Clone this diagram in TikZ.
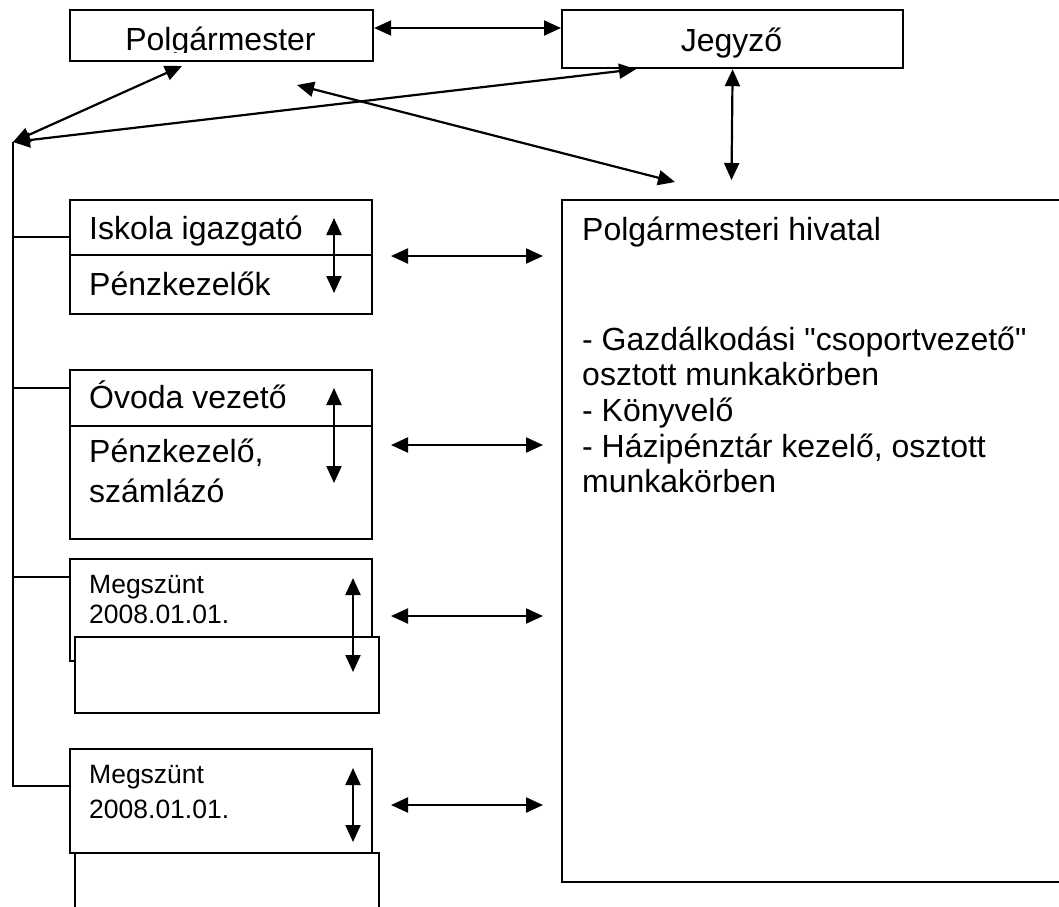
\documentclass[tikz,border=0pt]{standalone}
\usepackage{fontspec}
\setmainfont{Liberation Sans}
\usetikzlibrary{arrows.meta}
\tikzset{
  box/.style={draw, line width=2.2pt, fill=white, inner sep=0pt, anchor=north west},
  tipA/.style={{Triangle[length=17pt,width=15pt]}-{Triangle[length=17pt,width=15pt]}},
  conn/.style={line width=2.2pt, tipA},
  plain/.style={line width=1.9pt},
  lbl/.style={inner sep=0pt, font=\fontsize{32}{35.7}\selectfont},
  small/.style={inner sep=0pt, font=\fontsize{26.5}{30}\selectfont},
}
\begin{document}
\begin{tikzpicture}[x=1pt,y=-1pt]
\useasboundingbox (0,0) rectangle (1059,906);
\clip (0,0) rectangle (1059,906);

% top boxes
\node[box, minimum width=303pt, minimum height=51pt] (P) at (69,9) {};
\begin{scope}
  \clip (69,9) rectangle (372,52.5);
  \node[lbl, anchor=base] (Pt) at (220.5,50) {Polgármester};
\end{scope}
\node[box, minimum width=341pt, minimum height=58pt] (J) at (561,9) {};
\node[lbl, anchor=base] (Jt) at (731.5,51) {Jegyző};

% big office box
\node[box, minimum width=520pt, minimum height=682pt] (H) at (561,199) {};
\node[lbl, anchor=base west] (Ht) at (582,240) {Polgármesteri hivatal};
\node[lbl, anchor=base west] (Hl) at (582,350) {\begin{tabular}[t]{@{}l@{}}- Gazdálkodási \textquotedbl csoportvezető\textquotedbl\\osztott munkakörben\\- Könyvelő\\- Házipénztár kezelő, osztott\\munkakörben\end{tabular}};

% left boxes
\node[box, minimum width=302pt, minimum height=114pt] (I) at (69,199) {};
\draw[plain] (I.west |- 0,255) -- (I.east |- 0,255);
\node[lbl, anchor=base west] (It) at (89,239) {Iskola igazgató};
\node[lbl, anchor=base west] (Ip) at (89,295) {Pénzkezelők};

\node[box, minimum width=302pt, minimum height=169pt] (O) at (69,369) {};
\draw[plain] (O.west |- 0,426) -- (O.east |- 0,426);
\node[lbl, anchor=base west] (Ot) at (89,408) {Óvoda vezető};
\node[anchor=base west, inner sep=0pt, font=\fontsize{32}{40}\selectfont] (Op) at (89,462) {\begin{tabular}[t]{@{}l@{}}Pénzkezelő,\\számlázó\end{tabular}};

\node[box, minimum width=302pt, minimum height=102pt] (M1) at (69,558) {};
\node[small, anchor=base west] (M1t) at (89,593) {\begin{tabular}[t]{@{}l@{}}Megszünt\\2008.01.01.\end{tabular}};
\node[box, minimum width=304pt, minimum height=76pt] (M1b) at (74,636) {};

\node[box, minimum width=302pt, minimum height=104pt] (M2) at (69,748) {};
\node[anchor=base west, inner sep=0pt, font=\fontsize{26.5}{35}\selectfont] (M2t) at (89,783) {\begin{tabular}[t]{@{}l@{}}Megszünt\\2008.01.01.\end{tabular}};
\node[box, minimum width=304pt, minimum height=100pt] (M2b) at (74,852) {};

% free connector ends
\coordinate (C) at (13,142);
\coordinate (Pa) at (182,66);
\coordinate (Pb) at (297,85);
\coordinate (Hb) at (675,182);
\coordinate (Ha) at (731.5,180);

% top connectors
\draw[conn] (P.east |- 0,28) -- (J.west |- 0,28);
\draw[conn] (C) -- (Pa);
\draw[conn] (C) -- (J.south -| 636,0);
\draw[conn] (Pb) -- (Hb);
\draw[conn] (J.south) -- (Ha);

% left tree
\draw[plain] (C) |- (M2.west |- 0,786);
\draw[plain] (C |- 0,237) -- (I.west |- 0,237);
\draw[plain] (C |- 0,388) -- (O.west |- 0,388);
\draw[plain] (C |- 0,577) -- (M1.west |- 0,577);

% vertical arrows inside boxes
\coordinate (iu) at (334,218); \coordinate (id) at (334,293);
\coordinate (ou) at (334,388); \coordinate (od) at (334,483);
\coordinate (m1u) at (353,578); \coordinate (m1d) at (353,672);
\coordinate (m2u) at (353,768); \coordinate (m2d) at (353,842);
\draw[conn] (iu) -- (id);
\draw[conn] (ou) -- (od);
\draw[conn] (m1u) -- (m1d);
\draw[conn] (m2u) -- (m2d);

% horizontal arrows to office
\coordinate (a1) at (391,256); \coordinate (b1) at (543,256);
\coordinate (a2) at (391,445); \coordinate (b2) at (543,445);
\coordinate (a3) at (391,616); \coordinate (b3) at (543,616);
\coordinate (a4) at (391,805); \coordinate (b4) at (543,805);
\draw[conn] (a1) -- (b1);
\draw[conn] (a2) -- (b2);
\draw[conn] (a3) -- (b3);
\draw[conn] (a4) -- (b4);
\end{tikzpicture}
\end{document}
